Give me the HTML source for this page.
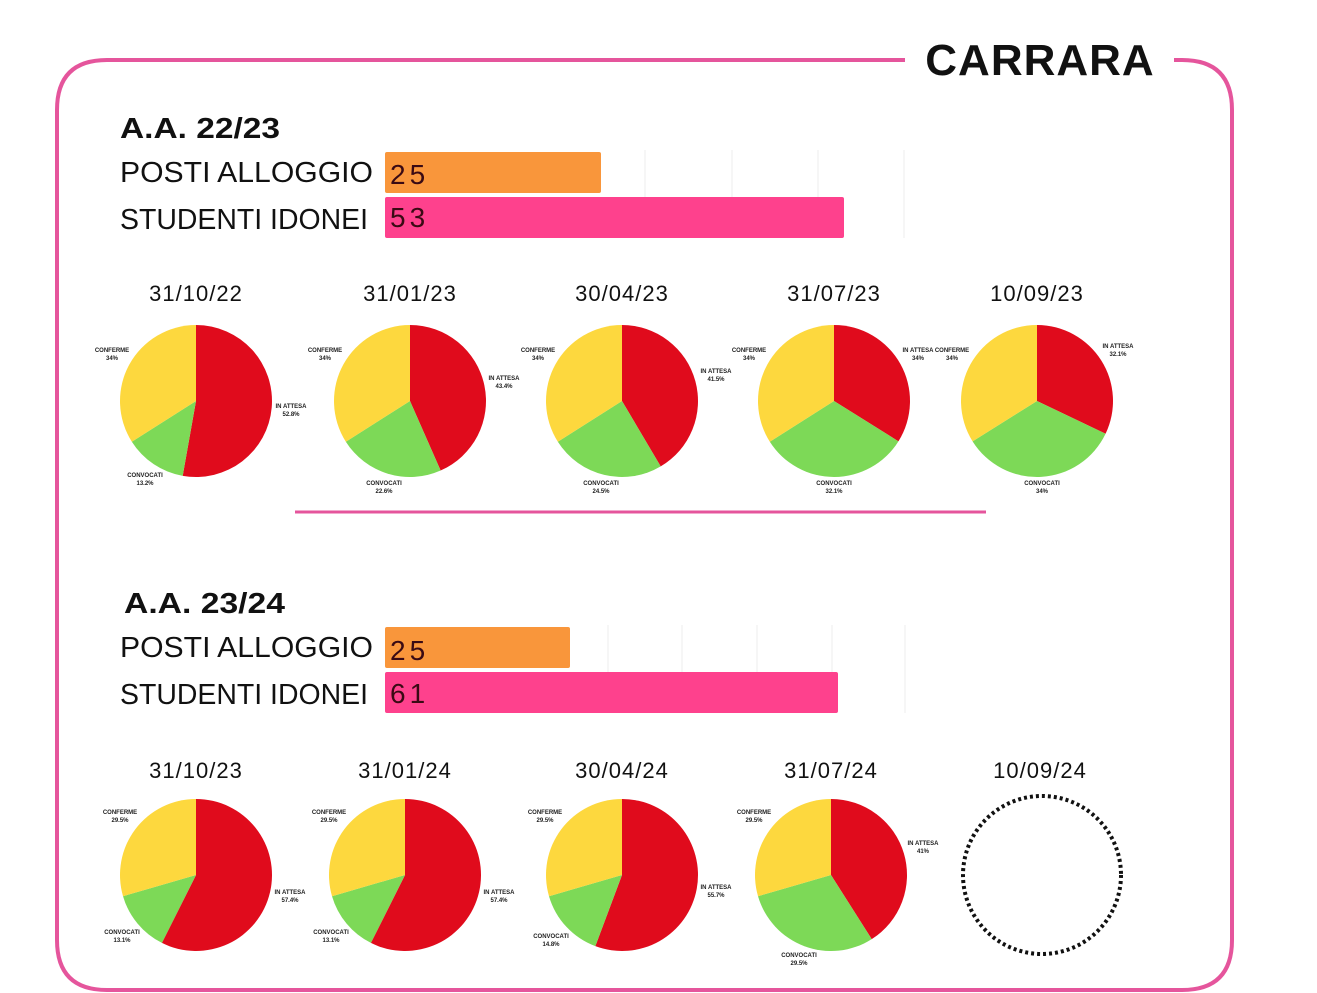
<!DOCTYPE html>
<html><head><meta charset="utf-8"><style>
body{margin:0;background:#fff;}
svg{display:block;font-family:"Liberation Sans",sans-serif;}
.lb{font-size:6px;font-weight:bold;text-anchor:middle;fill:#222}
.dt{font-size:22px;text-anchor:middle;fill:#111;letter-spacing:1px}
.big{font-size:29px;fill:#111}
.hd{font-size:29px;font-weight:bold;fill:#111}
.num{font-size:28px;fill:#3a0a14;letter-spacing:4px}
</style></head><body>
<svg id="s" width="1317" height="993" viewBox="0 0 1317 993">
<path d="M905 60 H107 Q57 60 57 110 V940 Q57 990 107 990 H1182 Q1232 990 1232 940 V110 Q1232 60 1182 60 H1174" fill="none" stroke="#e5559c" stroke-width="4"/>
<text x="1040" y="75" font-size="44" font-weight="bold" text-anchor="middle" fill="#111" style="letter-spacing:1px">CARRARA</text>
<text x="120" y="138" class="hd" textLength="160" lengthAdjust="spacingAndGlyphs">A.A. 22/23</text>
<text x="120" y="182" class="big" textLength="253" lengthAdjust="spacingAndGlyphs">POSTI ALLOGGIO</text>
<text x="120" y="229" class="big" textLength="248" lengthAdjust="spacingAndGlyphs">STUDENTI IDONEI</text>
<g stroke="#eee" stroke-width="1"><line x1="645" y1="150" x2="645" y2="238"/><line x1="732" y1="150" x2="732" y2="238"/><line x1="818" y1="150" x2="818" y2="238"/><line x1="904" y1="150" x2="904" y2="238"/></g>
<rect x="385" y="152" width="216" height="41" rx="2" fill="#f9963b"/>
<rect x="385" y="197" width="459" height="41" rx="2" fill="#fe418d"/>
<text x="390" y="184" class="num">25</text><text x="390" y="227" class="num">53</text>
<line x1="295" y1="512" x2="986" y2="512" stroke="#e5559c" stroke-width="3"/>
<text x="124" y="613" class="hd" textLength="161" lengthAdjust="spacingAndGlyphs">A.A. 23/24</text>
<text x="120" y="657" class="big" textLength="253" lengthAdjust="spacingAndGlyphs">POSTI ALLOGGIO</text>
<text x="120" y="704" class="big" textLength="248" lengthAdjust="spacingAndGlyphs">STUDENTI IDONEI</text>
<g stroke="#eee" stroke-width="1"><line x1="608" y1="625" x2="608" y2="713"/><line x1="682" y1="625" x2="682" y2="713"/><line x1="757" y1="625" x2="757" y2="713"/><line x1="832" y1="625" x2="832" y2="713"/><line x1="905" y1="625" x2="905" y2="713"/></g>
<rect x="385" y="627" width="185" height="41" rx="2" fill="#f9963b"/>
<rect x="385" y="672" width="453" height="41" rx="2" fill="#fe418d"/>
<text x="390" y="660" class="num">25</text><text x="390" y="703" class="num">61</text>
<circle cx="1042" cy="875" r="79" fill="none" stroke="#111" stroke-width="4" stroke-dasharray="3 3"/>
<g id="pies"></g>
</svg>
<script>
var P=[
[196,401,"31/10/22",52.8,13.2,[[291,408,"IN ATTESA","52.8%"],[145,477,"CONVOCATI","13.2%"],[112,352,"CONFERME","34%"]]],
[410,401,"31/01/23",43.4,22.6,[[504,380,"IN ATTESA","43.4%"],[384,485,"CONVOCATI","22.6%"],[325,352,"CONFERME","34%"]]],
[622,401,"30/04/23",41.5,24.5,[[716,373,"IN ATTESA","41.5%"],[601,485,"CONVOCATI","24.5%"],[538,352,"CONFERME","34%"]]],
[834,401,"31/07/23",33.9,32.1,[[918,352,"IN ATTESA","34%"],[834,485,"CONVOCATI","32.1%"],[749,352,"CONFERME","34%"]]],
[1037,401,"10/09/23",32.1,34,[[1118,348,"IN ATTESA","32.1%"],[1042,485,"CONVOCATI","34%"],[952,352,"CONFERME","34%"]]],
[196,875,"31/10/23",57.4,13.1,[[290,894,"IN ATTESA","57.4%"],[122,934,"CONVOCATI","13.1%"],[120,814,"CONFERME","29.5%"]]],
[405,875,"31/01/24",57.4,13.1,[[499,894,"IN ATTESA","57.4%"],[331,934,"CONVOCATI","13.1%"],[329,814,"CONFERME","29.5%"]]],
[622,875,"30/04/24",55.7,14.8,[[716,889,"IN ATTESA","55.7%"],[551,938,"CONVOCATI","14.8%"],[545,814,"CONFERME","29.5%"]]],
[831,875,"31/07/24",41,29.5,[[923,845,"IN ATTESA","41%"],[799,957,"CONVOCATI","29.5%"],[754,814,"CONFERME","29.5%"]]]];
var h="",r=76;
function pt(cx,cy,f){var a=f*2*Math.PI;return [cx+r*Math.sin(a),cy-r*Math.cos(a)];}
function sl(cx,cy,a,b,c){var p=pt(cx,cy,a),q=pt(cx,cy,b);return '<path d="M'+cx+' '+cy+'L'+p[0]+' '+p[1]+'A'+r+' '+r+' 0 '+((b-a)>0.5?1:0)+' 1 '+q[0]+' '+q[1]+'Z" fill="'+c+'"/>';}
P.forEach(function(d){var cx=d[0],cy=d[1],a=d[3]/100,b=a+d[4]/100;
h+=sl(cx,cy,0,a,"#e00b1c")+sl(cx,cy,a,b,"#7dd957")+sl(cx,cy,b,1,"#fdd83e");
h+='<text class="dt" x="'+cx+'" y="'+(cy<500?301:778)+'">'+d[2]+'</text>';
d[5].forEach(function(l){h+='<text class="lb" x="'+l[0]+'" y="'+l[1]+'">'+l[2]+'</text><text class="lb" x="'+l[0]+'" y="'+(l[1]+8)+'">'+l[3]+'</text>';});});
h+='<text class="dt" x="1040" y="778">10/09/24</text>';
document.getElementById("pies").innerHTML=h;
</script>
</body></html>
